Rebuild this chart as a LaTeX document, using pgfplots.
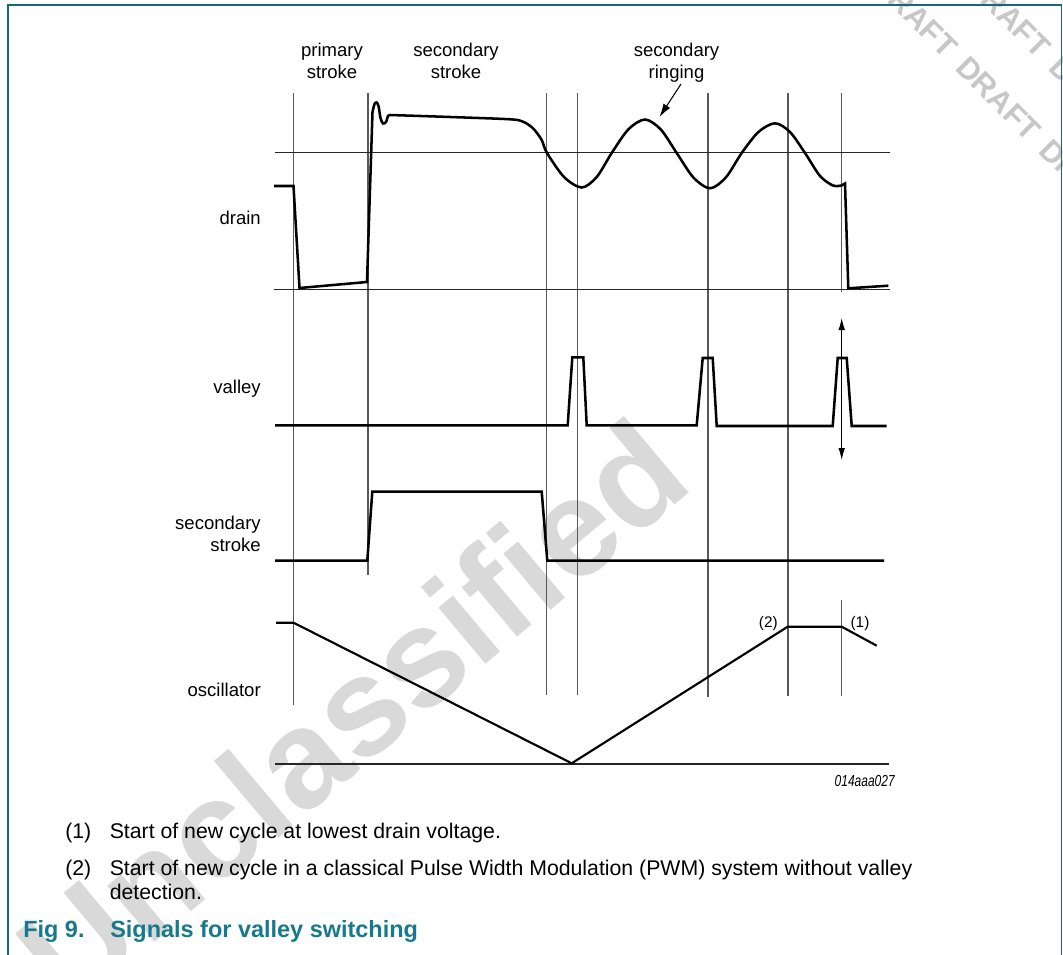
\documentclass[border=0pt]{standalone}
\usepackage{pgfplots}
\pgfplotsset{compat=1.18}
\usepackage{fontspec}
\setmainfont{Liberation Sans}
\usepackage{graphicx}
\usetikzlibrary{arrows.meta}
\definecolor{tealA}{RGB}{22,122,140}
\definecolor{tealB}{RGB}{20,105,125}
\tikzset{
  sig/.style={black, line width=1.9pt, line join=miter},
  vl/.style={black!65, line width=0.8pt},
  hl/.style={black!85, line width=0.8pt},
  lbl/.style={font=\fontsize{13.9}{16}\selectfont, inner sep=0pt},
}
\newcommand{\dr}{DRAFT\hspace{0.45em}}
\begin{document}
\begin{tikzpicture}
\begin{axis}[name=ax, width=797.25pt, height=716.25pt, scale only axis,
  xmin=0, xmax=1063, ymin=0, ymax=955, y dir=reverse, hide axis, clip=false]

% watermarks
\node[rotate=40, text=black!15, inner sep=0pt, font=\fontsize{104}{110}\selectfont\bfseries] at (axis cs:352,712) {Unclassified};
\node[rotate=-45, anchor=west, text=black!22, inner sep=0pt, font=\fontsize{23}{26}\selectfont\bfseries] at (axis cs:795,-105) {\dr\dr\dr\dr\dr};
\node[rotate=-45, anchor=west, text=black!22, inner sep=0pt, font=\fontsize{23}{26}\selectfont\bfseries] at (axis cs:888,-105) {\dr\dr\dr\dr\dr};

% border
\addplot[tealB, line width=1.1pt] coordinates {(8,960) (8,5) (1061.7,5) (1061.7,960)};

% vertical guide lines
\addplot[vl] coordinates {(293.5,93) (293.5,705)};
\addplot[vl] coordinates {(368,93) (368,575)};
\addplot[vl] coordinates {(546.5,93) (546.5,695)};
\addplot[vl] coordinates {(577.5,93) (577.5,695)};
\addplot[vl] coordinates {(708,93) (708,697)};
\addplot[vl] coordinates {(788,93) (788,696)};
\addplot[vl] coordinates {(841.7,93) (841.7,292)};
\addplot[vl] coordinates {(841.7,600) (841.7,696)};
\addplot[black, line width=0.8pt, {Latex[length=9pt,width=5pt]}-{Latex[length=9pt,width=5pt]}] coordinates {(841.7,318) (841.7,460)};

% horizontal reference lines
\addplot[hl] coordinates {(275,152.5) (890,152.5)};
\addplot[hl] coordinates {(274,289.3) (890,289.3)};
\addplot[hl] coordinates {(275,764) (889,764)};

% drain
\addplot[sig] coordinates {(274,186) (293.5,186) (299.5,288) (367,282) (372.5,112)};
\addplot[sig, smooth] coordinates {(372.5,112) (374.5,104) (376.5,102.5) (378.5,106) (380.5,118) (383,123.5) (386,122) (388,116) (390,115)};
\addplot[sig, smooth] coordinates {(390,115) (450,117) (510,119.3) (523,121.7) (533,128.3) (541.7,140) (546.7,152.5) (564,177) (581.7,187.5) (596.7,177) (611.7,153) (628.4,129.3) (645,119.5) (660.8,129.5) (676.7,153) (693.4,177.5) (710,188.3) (725.8,177.5) (741.7,153) (758.4,132) (775,123.3) (790,132) (805,153) (820,176) (833,185.5) (841.5,185.5)};
\addplot[sig] coordinates {(841.5,185.5) (845,183.5) (848.3,288.3) (888.3,285.7)};

% valley
\addplot[sig] coordinates {(275,425.3) (567.7,425.3) (572.3,357.3) (583.3,357.3) (586.7,425.3) (696.7,425.3) (702.7,358) (712.7,358) (716.7,426) (832.7,426) (837.7,358) (846.7,358) (851.7,426) (886.7,426)};

% secondary stroke
\addplot[sig] coordinates {(275,560.7) (367.3,560.7) (372.3,491.7) (541.7,491.7) (547.3,560.7) (884,560.7)};

% oscillator
\addplot[sig, line width=1.6pt] coordinates {(276,622.7) (293.5,622.7) (571.7,763.3) (787.7,626.7) (841.7,626.7) (876.7,645.7)};

% arrow for ringing
\addplot[black, line width=0.8pt, -{Latex[length=10pt,width=6pt]}] coordinates {(681,84) (659.5,117)};

% top labels
\node[lbl, anchor=base] at (axis cs:332,56.5) {primary};
\node[lbl, anchor=base] at (axis cs:332,78.5) {stroke};
\node[lbl, anchor=base] at (axis cs:456,56.5) {secondary};
\node[lbl, anchor=base] at (axis cs:456,78.5) {stroke};
\node[lbl, anchor=base] at (axis cs:676.5,56.5) {secondary};
\node[lbl, anchor=base] at (axis cs:676.5,78.5) {ringing};

% left labels
\node[lbl, anchor=base east] at (axis cs:261,225) {drain};
\node[lbl, anchor=base east] at (axis cs:261,393) {valley};
\node[lbl, anchor=base east] at (axis cs:261,529.5) {secondary};
\node[lbl, anchor=base east] at (axis cs:261,551) {stroke};
\node[lbl, anchor=base east] at (axis cs:261,696.5) {oscillator};

% annotations
\node[inner sep=0pt, anchor=base, font=\fontsize{11.5}{13}\selectfont] at (axis cs:768.3,627) {(2)};
\node[inner sep=0pt, anchor=base, font=\fontsize{11.5}{13}\selectfont] at (axis cs:860,627) {(1)};
\node[inner sep=0pt, anchor=base east, font=\fontsize{12}{14}\selectfont\itshape] at (axis cs:895,786) {\scalebox{0.75}[1]{014aaa027}};

% caption
\node[inner sep=0pt, anchor=base west, font=\fontsize{15.95}{18}\selectfont] at (axis cs:65,838.5) {(1)};
\node[inner sep=0pt, anchor=base west, font=\fontsize{15.95}{18}\selectfont] at (axis cs:109.5,838.5) {Start of new cycle at lowest drain voltage.};
\node[inner sep=0pt, anchor=base west, font=\fontsize{15.95}{18}\selectfont] at (axis cs:65,875.5) {(2)};
\node[inner sep=0pt, anchor=base west, font=\fontsize{15.95}{18}\selectfont] at (axis cs:109.5,875.5) {Start of new cycle in a classical Pulse Width Modulation (PWM) system without valley};
\node[inner sep=0pt, anchor=base west, font=\fontsize{15.95}{18}\selectfont] at (axis cs:109.5,899.5) {detection.};
\node[inner sep=0pt, anchor=base west, text=tealA, font=\fontsize{17.6}{20}\selectfont\bfseries] at (axis cs:23,937) {Fig 9.};
\node[inner sep=0pt, anchor=base west, text=tealA, font=\fontsize{17.6}{20}\selectfont\bfseries] at (axis cs:110,937) {Signals for valley switching};
\end{axis}
\pgfresetboundingbox
\path (ax.south west) rectangle (ax.north east);
\end{tikzpicture}
\end{document}
